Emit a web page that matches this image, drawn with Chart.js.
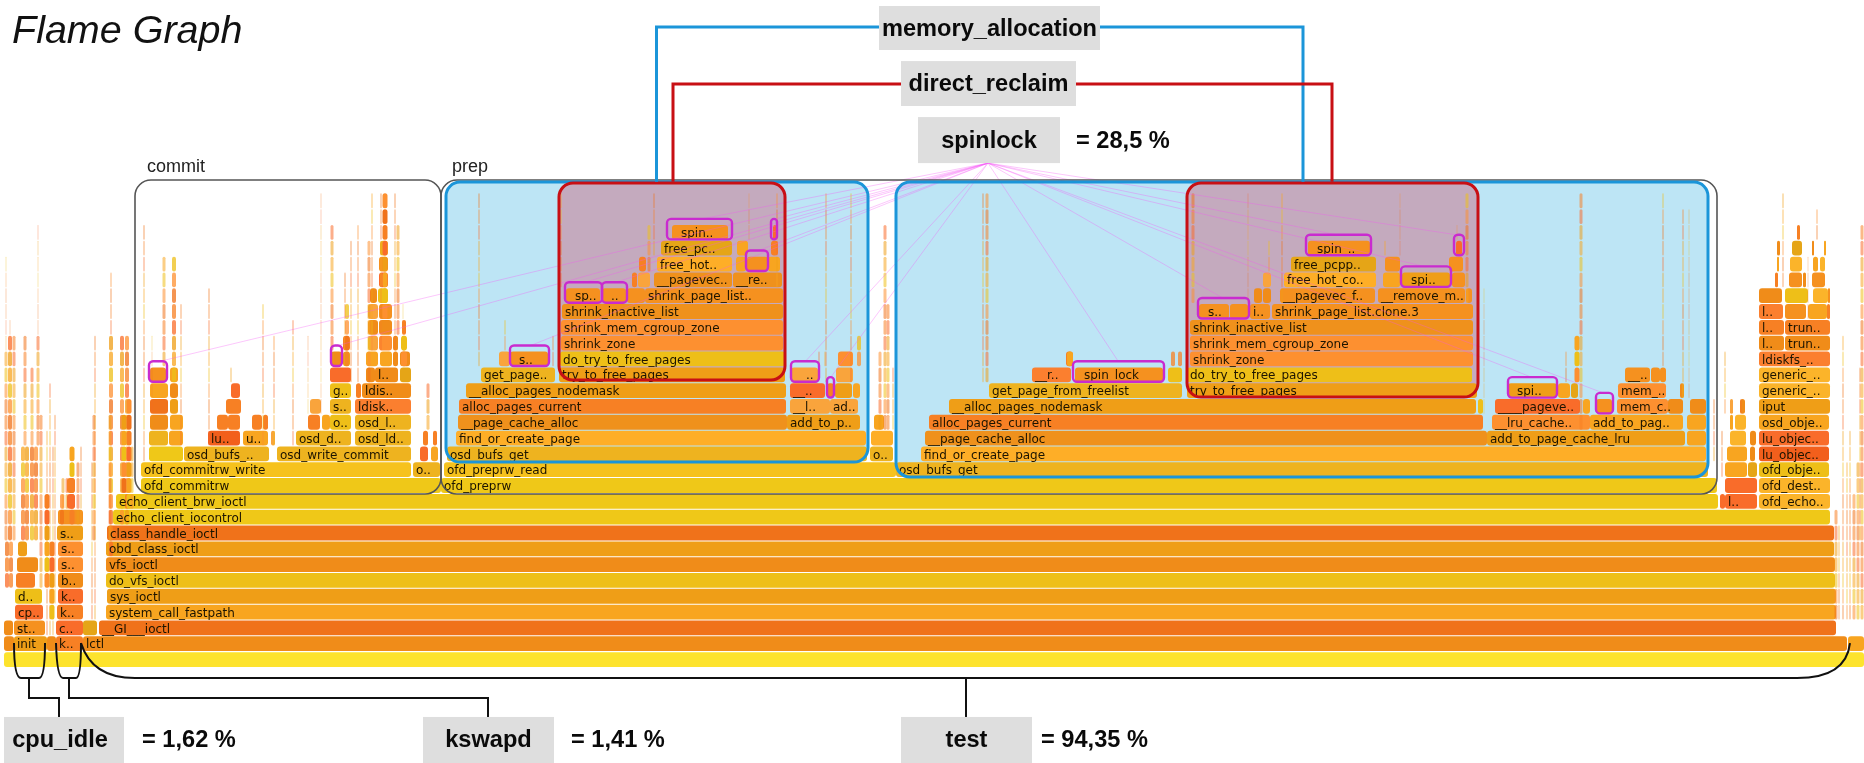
<!DOCTYPE html>
<html>
<head>
<meta charset="utf-8">
<title>Flame Graph</title>
<script src="https://cdn.jsdelivr.net/npm/chart.js@4/dist/chart.umd.min.js"></script>
<style>
html,body{margin:0;padding:0;background:#fff;overflow:hidden}
canvas{display:block;filter:blur(.35px)}
</style>
</head>
<body>
<canvas id="flame" width="1864" height="763"></canvas>
<script>
// frames: [stack level, first sample, last sample, name]
const rootFrames = [
  [0,4,1864,''],
  [1,4,14,''],[1,14,47,'init'],[1,47,56,''],[1,56,83,'k..'],[1,83,1847,'lctl'],[1,1848,1864,''],
  [2,4,13,''],[2,14,45,'st..'],[2,56,83,'c..'],[2,83,97,''],[2,99,1836,'__GI___ioctl'],
  [3,15,43,'cp..'],[3,57,83,'k..'],[3,106,1836,'system_call_fastpath'],
  [4,15,42,'d..'],[4,58,83,'k..'],[4,107,1836,'sys_ioctl'],
  [5,16,35,''],[5,58,83,'b..'],[5,106,1835,'do_vfs_ioctl'],
  [6,17,38,''],[6,58,83,'s..'],[6,106,1835,'vfs_ioctl'],
  [7,18,27,''],[7,58,83,'s..'],[7,106,1834,'obd_class_ioctl'],
  [8,57,83,'s..'],[8,107,1834,'class_handle_ioctl'],
  [9,58,83,''],[9,113,1830,'echo_client_iocontrol'],
  [10,116,1718,'echo_client_brw_ioctl'],
  [11,141,441,'ofd_commitrw'],[11,441,1717,'ofd_preprw']
];
const rootShades = 'q bcbkbd brmsa mkd emc kbe blb clc ca rf f ff';

const commitFrames = [
  [12,141,411,'ofd_commitrw_write'],[12,413,440,'o..'],
  [13,149,183,''],[13,184,269,'osd_bufs_..'],[13,277,411,'osd_write_commit'],[13,420,428,''],[13,431,438,''],
  [14,149,168,''],[14,169,183,''],[14,208,240,'lu..'],[14,243,268,'u..'],[14,271,275,''],[14,296,351,'osd_d..'],[14,355,411,'osd_ld..'],[14,423,428,''],[14,433,437,''],
  [15,150,168,''],[15,170,183,''],[15,217,228,''],[15,228,240,''],[15,252,262,''],[15,263,268,''],[15,308,320,''],[15,322,330,''],[15,330,351,'o..'],[15,355,411,'osd_l..'],
  [16,150,168,''],[16,170,178,''],[16,226,241,''],[16,310,321,''],[16,330,351,'s..'],[16,355,411,'ldisk..'],
  [17,150,168,''],[17,170,178,''],[17,231,240,''],[17,330,351,'g..'],[17,356,361,''],[17,362,411,'ldis..'],
  [18,150,166,''],[18,170,178,''],[18,330,351,''],[18,366,375,''],[18,375,398,'l..'],[18,400,411,''],
  [19,331,342,''],[19,343,350,''],[19,366,378,''],[19,380,392,''],[19,393,398,''],[19,400,410,''],
  [20,343,350,''],[20,368,378,''],[20,379,392,''],[20,393,398,''],[20,402,406,''],
  [21,368,378,''],[21,379,392,''],[21,402,406,''],
  [22,368,378,''],[22,379,392,''],
  [23,370,377,''],[23,378,388,''],
  [24,379,388,''],[25,379,388,''],[26,380,388,'']
];
const commitShades = 'gh fhhmd hdndthhkk bdkkkkkdeh acktho dbmekb rdmbbs bcddbb ktlbd bbk tr be m r h';

const prepFrames = [
  [12,444,896,'ofd_preprw_read'],
  [13,447,867,'osd_bufs_get'],[13,870,893,'o..'],
  [14,456,866,'find_or_create_page'],[14,871,893,''],
  [15,458,787,'__page_cache_alloc'],[15,787,860,'add_to_p..'],[15,874,884,''],
  [16,459,786,'alloc_pages_current'],[16,790,830,'__l..'],[16,830,858,'ad..'],
  [17,466,786,'__alloc_pages_nodemask'],[17,790,825,'__..'],[17,827,834,''],[17,835,852,''],[17,853,860,''],
  [18,481,555,'get_page..'],[18,559,785,'try_to_free_pages'],[18,791,818,'__..'],[18,836,853,''],
  [19,499,510,''],[19,510,548,'_s..'],[19,560,785,'do_try_to_free_pages'],[19,838,853,''],
  [20,561,783,'shrink_zone'],
  [21,561,783,'shrink_mem_cgroup_zone'],
  [22,562,783,'shrink_inactive_list'],
  [23,566,600,'_sp..'],[23,602,626,'_..'],[23,627,645,''],[23,645,783,'shrink_page_list..'],
  [24,632,637,''],[24,638,650,''],[24,654,732,'__pagevec..'],[24,733,782,'__re..'],
  [25,639,646,''],[25,657,732,'free_hot..'],[25,736,746,''],[25,747,768,''],[25,768,780,''],
  [26,661,732,'free_pc..'],[26,737,748,''],[26,771,778,''],
  [27,672,728,'_spin..'],[27,773,777,'']
];
const prepShades = 'g hh ii jcd ktt cmkcd hctt trel l l j rrrr ktjj kidrd sdk rm';

const testFrames = [
  [12,896,1708,'osd_bufs_get'],
  [13,921,1706,'find_or_create_page'],
  [14,925,1487,'__page_cache_alloc'],[14,1487,1685,'add_to_page_cache_lru'],[14,1687,1706,''],
  [15,929,1483,'alloc_pages_current'],[15,1492,1590,'__lru_cache..'],[15,1590,1683,'add_to_pag..'],[15,1687,1706,''],
  [16,949,1476,'__alloc_pages_nodemask'],[16,1478,1483,''],[16,1495,1580,'____pageve..'],[16,1583,1590,''],[16,1596,1612,''],[16,1617,1668,'mem_c..'],[16,1668,1683,''],[16,1690,1706,''],
  [17,989,1182,'get_page_from_freelist'],[17,1187,1477,'try_to_free_pages'],[17,1508,1557,'_spi..'],[17,1558,1570,''],[17,1571,1578,''],[17,1618,1666,'mem_..'],[17,1680,1684,''],
  [18,1032,1071,'__r..'],[18,1075,1163,'_spin_lock'],[18,1168,1182,''],[18,1187,1472,'do_try_to_free_pages'],[18,1625,1650,'__..'],[18,1651,1660,''],[18,1660,1666,''],
  [19,1190,1473,'shrink_zone'],[19,1066,1073,''],
  [20,1190,1473,'shrink_mem_cgroup_zone'],
  [21,1190,1473,'shrink_inactive_list'],
  [22,1199,1229,'_s..'],[22,1230,1248,''],[22,1250,1270,'i..'],[22,1272,1473,'shrink_page_list.clone.3'],
  [23,1254,1262,''],[23,1263,1271,''],[23,1280,1375,'__pagevec_f..'],[23,1378,1465,'__remove_m..'],[23,1466,1472,''],
  [24,1263,1271,''],[24,1284,1376,'free_hot_co..'],[24,1383,1400,''],[24,1402,1450,'_spi..'],[24,1452,1465,''],
  [25,1291,1376,'free_pcpp..'],[25,1385,1400,''],[25,1449,1463,''],
  [26,1308,1370,'_spin_..'],[26,1456,1462,'']
];
const testShades = 'h i jcd kldd cemdrlbb hccdslb oreerrr lk l j rrrr bbrrr tidcr srr rm';

const rightFrames = [
  [10,1720,1725,''],[10,1725,1757,'l..'],[10,1759,1830,'ofd_echo..'],
  [11,1725,1757,''],[11,1759,1830,'ofd_dest..'],
  [12,1725,1747,''],[12,1748,1757,''],[12,1759,1829,'ofd_obje..'],
  [13,1727,1747,''],[13,1750,1755,''],[13,1759,1829,'lu_objec..'],
  [14,1730,1746,''],[14,1750,1756,''],[14,1759,1829,'lu_objec..'],
  [15,1730,1733,''],[15,1735,1746,''],[15,1759,1829,'osd_obje..'],
  [16,1730,1733,''],[16,1740,1745,''],[16,1759,1830,'iput'],
  [17,1759,1830,'generic_..'],
  [18,1759,1830,'generic_..'],
  [19,1759,1830,'ldiskfs_..'],
  [20,1759,1784,'l..'],[20,1785,1830,'trun..'],
  [21,1759,1784,'l..'],[21,1785,1830,'trun..'],
  [22,1759,1783,'l..'],[22,1785,1806,''],[22,1808,1827,''],[22,1827,1830,''],
  [23,1759,1782,''],[23,1785,1808,''],[23,1813,1828,''],[23,1828,1830,''],
  [24,1775,1778,''],[24,1789,1802,''],[24,1803,1806,''],[24,1812,1825,''],
  [25,1777,1779,''],[25,1790,1802,''],[25,1813,1818,''],[25,1820,1825,''],
  [26,1777,1780,''],[26,1792,1802,''],[26,1812,1814,''],[26,1824,1826,''],
  [27,1797,1800,'']
];
const rightShades = 'mmp mp dse dbn pbm dpd tbc p p o bb kk ordk bepr krbr dpdp bsbd k';

// narrow stacks: [centre sample, width, lowest level, highest level]
const leftSpikes = [
  [6,3,8,19],[6,1,20,25],[10,4,8,20],[10,1,21,21],[14,3,8,20],[7,4,5,7],[11,4,5,7],
  [23,4,8,13],[25,3,14,20],[27,4,8,13],[32,4,8,13],[32,3,14,18],[36,4,8,13],[38,3,14,20],[38,1,21,27],
  [41,3,5,15],[47,2,2,14],[50,2,2,17],[53,2,2,13],[55,2,4,15],[47,5,5,10],[52,5,3,7],
  [63,3,10,11],[67,3,10,11],[72,5,9,13],[78,3,9,12],[81,2,9,13],[71,8,10,11],[62,4,9,10],
  [92,2,3,12],[95,2,3,20],[94,3,8,15],[111,4,7,20],[111,2,21,24],[110,3,8,15],
  [122,4,9,20],[127,4,9,20],[124,5,11,15],[129,5,10,16],[132,3,10,13]
];
const commitSpikes = [
  [144,2,13,27],[152,1,15,20],[164,3,19,25],[174,4,18,25],[181,2,14,22],[209,2,14,23],[231,2,18,18],
  [263,2,14,22],[274,2,14,20],[293,2,14,21],[308,1,16,20],[321,1,16,29],[332,3,19,27],[345,2,20,24],
  [347,4,19,22],[351,2,18,26],[358,2,18,27],[369,3,18,26],[372,2,20,29],[381,2,20,29],[385,5,22,29],
  [395,2,20,29],[403,1,20,22],[404,6,19,20],[428,3,15,17],[398,3,21,27]
];
const prepSpikes = [
  [479,2,19,29],[505,2,20,21],[553,2,19,20],[561,2,24,29],[654,2,26,29],[649,3,25,27],[749,1,27,29],
  [777,2,24,29],[826,2,18,29],[851,2,18,29],[819,2,19,19],[825,2,19,19],[885,3,15,27],[888,3,15,22],
  [880,3,15,19],[893,2,15,18],[859,4,19,20]
];
const testSpikes = [
  [983,2,18,29],[987,3,18,29],[1070,6,19,19],[1173,4,19,19],[1180,4,19,19],[1193,3,23,29],[1248,1,23,29],
  [1282,2,23,29],[1269,2,25,26],[1467,3,23,29],[1400,1,26,29],[1457,1,27,27],[1484,1,16,23],[1385,2,26,26],
  [1581,3,15,29],[1663,2,19,29],[1683,2,17,28],[1689,1,17,28],[1577,5,18,20],[1566,2,18,19]
];
const rightSpikes = [
  [1725,2,16,19],[1741,2,16,16],[1783,2,24,29],[1817,2,27,28],[1808,1,22,25],[1714,2,13,16],[1722,2,12,14],
  [1836,3,3,9],[1839,2,3,8],[1843,2,3,20],[1847,2,3,12],[1850,2,3,14],[1854,3,3,10],[1858,3,3,12],[1862,3,3,27],[1860,2,8,18]
];

// call-outs
const calloutNames = ['memory_allocation','direct_reclaim','spinlock','cpu_idle','kswapd','test'];
const calloutShares = ['','','= 28,5 %','= 1,62 %','= 1,41 %','= 94,35 %'];
const regionNames = ['commit','prep'];
// [first sample, last sample, top level, bottom level]
const stackRegions = [[135,441,30.31,10.46],[441,1717,30.31,10.46]];
const allocRegions = [[446,868,30.18,12.48],[896,1708,30.18,11.54]];
const reclaimRegions = [[559,785,30.12,17.67],[1187,1478,30.12,16.59]];
// spinlock frames: [level, first sample, last sample]
const spinFrames = [
  [18,149,167],[19,331,342],[19,510,549],[27,667,732],[27,771,777],[25,746,768],[23,565,602],[23,602,627],
  [18,791,819],[17,827,834],[18,1073,1164],[22,1198,1249],[26,1306,1371],[26,1454,1464],[24,1401,1451],
  [17,1508,1557],[16,1596,1613]
];

const palette = {
  a:'#f0721a',b:'#f08c19',c:'#ef9e17',d:'#f8a520',e:'#eebf18',f:'#efc818',g:'#f6c21d',h:'#eeb31f',
  i:'#feae27',j:'#ef911c',k:'#f78024',l:'#fd9030',m:'#f96c2a',n:'#f25f1c',o:'#fb7f2f',p:'#fbb42a',
  q:'#fde32d',r:'#f5911f',s:'#e5a517',t:'#f9a43c'
};
const spikeColors = ['240,114,26','248,165,32','247,128,36','238,191,24','249,108,42','253,144,48','239,158,23'];

const points = [], colors = [], names = [];
[[rootFrames,rootShades],[commitFrames,commitShades],[prepFrames,prepShades],[testFrames,testShades],[rightFrames,rightShades]].forEach(([frames,shades]) => {
  const keys = shades.replace(/\s/g,'');
  if (keys.length !== frames.length) throw new Error('shades ' + frames[0][3] + ' ' + keys.length + ' ' + frames.length);
  frames.forEach((f,i) => {
    points.push({x:[f[1],f[2]],y:f[0]});
    colors.push(palette[keys[i]]);
    names.push(f[3]);
  });
});
[leftSpikes,commitSpikes,prepSpikes,testSpikes,rightSpikes].forEach(list => {
  list.forEach(s => {
    for (let lv = s[2]; lv <= s[3]; lv++) {
      points.push({x:[s[0]-s[1]/2,s[0]+s[1]/2],y:lv});
      const alpha = s[1] <= 2 ? .32 : s[1] <= 3 ? .55 : s[1] <= 4 ? .75 : 1;
      colors.push('rgba('+spikeColors[(s[0]*3+lv*5)%spikeColors.length]+','+alpha+')');
      names.push('');
    }
  });
});

function rounded(ctx,x0,y0,x1,y1,r){
  ctx.beginPath();
  ctx.roundRect(x0,y0,x1-x0,y1-y0,r);
}

const regionBackdrop = {
  id:'regionBackdrop',
  beforeDatasetsDraw(chart){
    const {ctx,scales:{x,y}} = chart;
    ctx.save();
    ctx.fillStyle = '#bde5f5';
    allocRegions.forEach(r => { rounded(ctx,x.getPixelForValue(r[0]),y.getPixelForValue(r[2]),x.getPixelForValue(r[1]),y.getPixelForValue(r[3]),14); ctx.fill(); });
    ctx.fillStyle = '#c4aabe';
    reclaimRegions.forEach(r => { rounded(ctx,x.getPixelForValue(r[0]),y.getPixelForValue(r[2]),x.getPixelForValue(r[1]),y.getPixelForValue(r[3]),14); ctx.fill(); });
    ctx.restore();
  }
};

const annotations = {
  id:'annotations',
  afterDatasetsDraw(chart){
    const {ctx,scales:{x,y}} = chart;
    const px = v => x.getPixelForValue(v), py = v => y.getPixelForValue(v);
    ctx.save();

    // frame names
    const bars = chart.getDatasetMeta(0).data;
    ctx.font = '12px "DejaVu Sans"';
    ctx.textBaseline = 'middle';
    ctx.textAlign = 'left';
    ctx.fillStyle = '#1c1400';
    names.forEach((n,i) => {
      if (!n) return;
      const b = bars[i];
      ctx.fillText(n,Math.min(b.base,b.x)+3,b.y+1.5);
    });

    // spinlock fan
    ctx.strokeStyle = 'rgba(245,80,245,.32)';
    ctx.lineWidth = 1;
    spinFrames.forEach(s => {
      ctx.beginPath();
      ctx.moveTo(px(988),py(31.38));
      ctx.lineTo(px((s[1]+s[2])/2),py(s[0])-13);
      ctx.stroke();
    });

    // stack outlines
    ctx.strokeStyle = '#555';
    ctx.lineWidth = 1.6;
    stackRegions.forEach(r => { rounded(ctx,px(r[0]),py(r[2]),px(r[1]),py(r[3]),16); ctx.stroke(); });
    ctx.strokeStyle = '#1b95d9';
    ctx.lineWidth = 3;
    allocRegions.forEach(r => { rounded(ctx,px(r[0]),py(r[2]),px(r[1]),py(r[3]),14); ctx.stroke(); });
    ctx.strokeStyle = '#c80f14';
    reclaimRegions.forEach(r => { rounded(ctx,px(r[0]),py(r[2]),px(r[1]),py(r[3]),14); ctx.stroke(); });

    ctx.strokeStyle = '#c92bcf';
    ctx.lineWidth = 2.4;
    spinFrames.forEach(s => { rounded(ctx,px(s[1]),py(s[0])-13.5,px(s[2]),py(s[0])+7,4); ctx.stroke(); });

    // connectors
    ctx.lineWidth = 3;
    ctx.strokeStyle = '#1b95d9';
    ctx.beginPath();
    ctx.moveTo(px(656.5),py(30.2)); ctx.lineTo(px(656.5),py(39.98)); ctx.lineTo(px(1303),py(39.98)); ctx.lineTo(px(1303),py(30.2));
    ctx.stroke();
    ctx.strokeStyle = '#c80f14';
    ctx.beginPath();
    ctx.moveTo(px(673),py(30.2)); ctx.lineTo(px(673),py(36.38)); ctx.lineTo(px(1332),py(36.38)); ctx.lineTo(px(1332),py(30.2));
    ctx.stroke();

    ctx.strokeStyle = '#111';
    ctx.lineWidth = 2;
    ctx.beginPath();
    ctx.moveTo(px(14),py(1.04)); ctx.quadraticCurveTo(px(14),py(-1.17),px(21),py(-1.17)); ctx.lineTo(px(39),py(-1.17)); ctx.quadraticCurveTo(px(45),py(-1.17),px(45),py(1.04));
    ctx.moveTo(px(56),py(1.04)); ctx.quadraticCurveTo(px(57),py(-1.17),px(63),py(-1.17)); ctx.lineTo(px(76),py(-1.17)); ctx.quadraticCurveTo(px(81),py(-1.17),px(81),py(1.04));
    ctx.moveTo(px(81),py(1.04)); ctx.quadraticCurveTo(px(92),py(-1.17),px(135),py(-1.17)); ctx.lineTo(px(1797),py(-1.17)); ctx.quadraticCurveTo(px(1846),py(-1.17),px(1850),py(1.04));
    ctx.moveTo(px(29),py(-1.17)); ctx.lineTo(px(29),py(-2.43)); ctx.lineTo(px(59),py(-2.43)); ctx.lineTo(px(59),py(-3.63));
    ctx.moveTo(px(69),py(-1.17)); ctx.lineTo(px(69),py(-2.43)); ctx.lineTo(px(488),py(-2.43)); ctx.lineTo(px(488),py(-3.63));
    ctx.moveTo(px(966),py(-1.17)); ctx.lineTo(px(966),py(-3.63));
    ctx.stroke();

    // call-out boxes: [first sample, last sample, top level, bottom level, share x]
    const boxes = [
      [879,1100,41.31,38.53,0],[901,1076,37.83,34.99,0],[918,1060,34.29,31.38,1076],
      [4,124,-3.63,-6.54,142],[423,554,-3.63,-6.54,571],[901,1032,-3.63,-6.54,1041]
    ];
    boxes.forEach((b,i) => {
      ctx.fillStyle = '#dedede';
      ctx.fillRect(px(b[0]),py(b[2]),px(b[1])-px(b[0]),py(b[3])-py(b[2]));
      ctx.fillStyle = '#0a0a0a';
      ctx.font = 'bold 23.6px "Liberation Sans"';
      ctx.textAlign = 'center';
      ctx.fillText(calloutNames[i],(px(b[0])+px(b[1]))/2-(i === 3 ? 4 : 0),(py(b[2])+py(b[3]))/2+1);
      if (calloutShares[i]) {
        ctx.textAlign = 'left';
        ctx.fillText(calloutShares[i],px(b[4]),(py(b[2])+py(b[3]))/2+1);
      }
    });

    ctx.font = '18px "Liberation Sans"';
    ctx.fillStyle = '#222';
    ctx.fillText(regionNames[0],px(147),py(31.15));
    ctx.fillText(regionNames[1],px(452),py(31.15));

    ctx.font = 'italic 39.5px "Liberation Sans"';
    ctx.fillStyle = '#111';
    ctx.fillText('Flame Graph',px(12),py(39.65));
    ctx.restore();
  }
};

new Chart(document.getElementById('flame'),{
  type:'bar',
  data:{datasets:[{data:points,backgroundColor:colors,barThickness:14.8,borderWidth:0,borderSkipped:false,inflateAmount:0,
    borderRadius:c => { const p = c.raw; return p ? Math.min(3,(p.x[1]-p.x[0])/2) : 0; }}]},
  options:{
    indexAxis:'y',responsive:false,animation:false,
    layout:{padding:0},
    plugins:{legend:{display:false},tooltip:{enabled:false}},
    scales:{
      x:{type:'linear',min:0,max:1864,display:false,grid:{display:false}},
      y:{type:'linear',min:-6.54,max:41.69,display:false,grid:{display:false},offset:false}
    }
  },
  plugins:[regionBackdrop,annotations]
});
</script>
</body>
</html>
